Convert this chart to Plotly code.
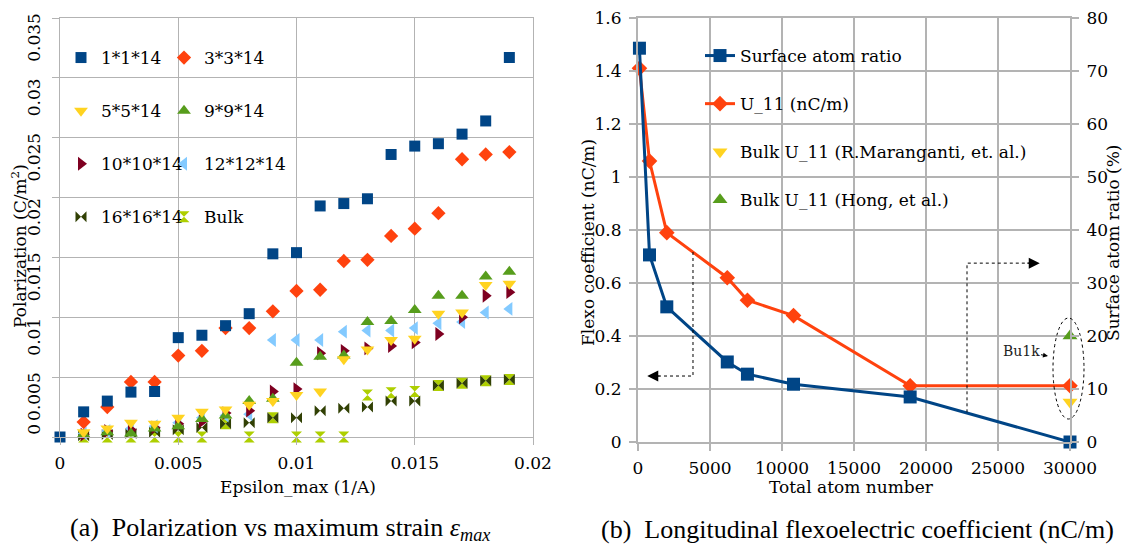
import plotly.graph_objects as go

# ---------------- data: (a) polarization vs strain ----------------
eps_all = [0.000, 0.001, 0.002, 0.003, 0.004, 0.005, 0.006, 0.007, 0.008, 0.009,
           0.010, 0.011, 0.012, 0.013, 0.014, 0.015, 0.016, 0.017, 0.018, 0.019]
eps = eps_all[1:]

p_1x1 = [0, 0.0021, 0.0030, 0.00375, 0.0038, 0.0083, 0.0085, 0.0093, 0.0103, 0.0153,
         0.0154, 0.0193, 0.0195, 0.0199, 0.0236, 0.0243, 0.0245, 0.0253, 0.0264, 0.0317]
p_3x3 = [0.00125, 0.0025, 0.0046, 0.0046, 0.0068, 0.0072, 0.0091, 0.0091, 0.0105, 0.0122,
         0.0123, 0.0147, 0.0148, 0.0168, 0.0174, 0.0187, 0.0232, 0.0236, 0.0238]
p_5x5 = [0.0004, 0.0007, 0.0012, 0.0011, 0.0016, 0.0021, 0.0023, 0.0027, 0.0030, 0.0035,
         0.0038, 0.0065, 0.0073, 0.0081, 0.0082, 0.0103, 0.0104, 0.0127, 0.0128]
p_9x9 = [0.0002, 0.0004, 0.0003, 0.0007, 0.0009, 0.0015, 0.0018, 0.0030, 0.0032, 0.0062,
         0.0067, 0.0068, 0.0096, 0.0097, 0.0106, 0.0118, 0.0118, 0.0134, 0.0138]
p_10x10 = [0.0002, 0.0005, 0.0006, 0.0008, 0.0011, 0.0013, 0.0020, 0.0022, 0.0038, 0.0040,
           0.0070, 0.0072, 0.0074, 0.0076, 0.0079, 0.0086, 0.0100, 0.0118, 0.0121]
p_12x12 = [0.0003, 0.0005, 0.0007, 0.0009, 0.0012, 0.0016, 0.0018, 0.0019, 0.0081, 0.0081,
           0.0081, 0.0088, 0.0089, 0.0089, 0.0091, 0.0095, 0.0096, 0.0104, 0.0107]
p_16x16 = [0.0001, 0.0002, 0.0003, 0.0004, 0.0006, 0.0008, 0.0011, 0.0012, 0.0016, 0.0016,
           0.0022, 0.0024, 0.0025, 0.0030, 0.0030, 0.0043, 0.0045, 0.0047, 0.0048]
p_bulk = [0, 0, 0, 0, 0, 0, 0.0011, 0, 0.0016, 0,
          0, 0, 0.0035, 0.0037, 0.0038, 0.0043, 0.0045, 0.0047, 0.0048]

# y tick labels of (a) (the "0" is padded so it sits centred on its tick)
pol_tickvals = [0, 0.005, 0.01, 0.015, 0.02, 0.025, 0.03, 0.035]
pol_ticktext = ["\u2007\u2007\u2007\u2007\u20070", "0.005", "0.01", "0.015",
                "0.02", "0.025", "0.03", "0.035"]

# ---------------- data: (b) flexoelectric coefficient ----------------
atoms = [100, 800, 2000, 6200, 7600, 10800, 18900, 30000]
surface_ratio = [74.3, 35.3, 25.5, 15.1, 12.8, 10.9, 8.5, 0]
u11 = [1.41, 1.06, 0.79, 0.62, 0.535, 0.477, 0.212, 0.212]
bulk_x = [30000]
bulk_maranganti = [0.151]
bulk_hong = [0.40]

# ---------------- styling ----------------
W, H = 1124, 546
FONT = "DejaVu Serif, Liberation Serif, DejaVu Sans, serif"
CAP_FONT = "Liberation Serif, DejaVu Serif, DejaVu Sans, serif"
GRID = "#b3b3b3"
C_BLUE, C_ORANGE, C_YELLOW, C_GREEN = "#004586", "#ff420e", "#ffd320", "#579d1c"
C_DRED, C_LBLUE, C_OLIVE, C_LIME = "#7e0021", "#83caff", "#314004", "#aecf00"


def px_x(p):
    return p / W


def px_y(p):
    return (H - p) / H


fig = go.Figure()

# series of (a): earlier series drawn on top -> add in reverse order
series_a = [
    ("1*1*14", eps_all, p_1x1, "square", C_BLUE, 11, "legend", 1),
    ("3*3*14", eps, p_3x3, "diamond", C_ORANGE, 11, "legend2", 1),
    ("5*5*14", eps, p_5x5, "triangle-down", C_YELLOW, 12, "legend", 2),
    ("9*9*14", eps, p_9x9, "triangle-up", C_GREEN, 12, "legend2", 2),
    ("10*10*14", eps, p_10x10, "triangle-right", C_DRED, 12, "legend", 3),
    ("12*12*14", eps, p_12x12, "triangle-left", C_LBLUE, 12, "legend2", 3),
    ("16*16*14", eps, p_16x16, "bowtie", C_OLIVE, 11, "legend", 4),
    ("Bulk", eps, p_bulk, "hourglass", C_LIME, 11, "legend2", 4),
]
for name, xs, ys, sym, col, size, leg, rank in reversed(series_a):
    fig.add_trace(go.Scatter(
        x=xs, y=ys, mode="markers", name=name,
        marker=dict(symbol=sym, color=col, size=size, line=dict(width=0)),
        xaxis="x", yaxis="y", legend=leg, legendgroup=name, legendrank=rank,
        cliponaxis=False))

# series of (b)
fig.add_trace(go.Scatter(
    x=atoms, y=u11, mode="lines+markers", name="U_11 (nC/m)",
    line=dict(color=C_ORANGE, width=3),
    marker=dict(symbol="diamond", size=12, color=C_ORANGE),
    xaxis="x2", yaxis="y2", legend="legend3", legendgroup="u11", legendrank=2,
    cliponaxis=False))
fig.add_trace(go.Scatter(
    x=bulk_x, y=bulk_maranganti, mode="markers", name="Bulk U_11 (R.Maranganti, et. al.)",
    marker=dict(symbol="triangle-down", size=13, color=C_YELLOW),
    xaxis="x2", yaxis="y2", legend="legend3", legendgroup="mar", legendrank=3,
    cliponaxis=False))
fig.add_trace(go.Scatter(
    x=bulk_x, y=bulk_hong, mode="markers", name="Bulk U_11 (Hong, et al.)",
    marker=dict(symbol="triangle-up", size=13, color=C_GREEN),
    xaxis="x2", yaxis="y2", legend="legend3", legendgroup="hong", legendrank=4,
    cliponaxis=False))
fig.add_trace(go.Scatter(
    x=atoms, y=surface_ratio, mode="lines+markers", name="Surface atom ratio",
    line=dict(color=C_BLUE, width=3),
    marker=dict(symbol="square", size=13, color=C_BLUE),
    xaxis="x2", yaxis="y3", legend="legend3", legendgroup="surf", legendrank=1,
    cliponaxis=False))

tickfont = dict(family=FONT, size=17, color="black")
common = dict(showgrid=True, gridcolor=GRID, showline=True, linecolor=GRID,
              ticks="outside", ticklen=7, tickcolor=GRID, zeroline=False,
              tickfont=tickfont, mirror=True, automargin=False)

legfont = dict(family=FONT, size=17, color="black")

fig.update_layout(
    width=W, height=H, margin=dict(l=0, r=0, t=0, b=0, pad=0, autoexpand=False),
    paper_bgcolor="white", plot_bgcolor="white",
    xaxis=dict(domain=[px_x(60), px_x(533)], range=[0, 0.02], dtick=0.005,
               gridwidth=1, linewidth=1, tickwidth=1, anchor="y",
               ticklabelstandoff=4, **common),
    yaxis=dict(domain=[px_y(437), px_y(18)], range=[0, 0.035],
               tickmode="array", tickvals=pol_tickvals, ticktext=pol_ticktext,
               tickangle=-90, gridwidth=1, linewidth=1, tickwidth=1, anchor="x",
               ticklabelstandoff=5, ticklabelshift=22, **common),
    xaxis2=dict(domain=[px_x(638), px_x(1070)], range=[0, 30000], dtick=5000,
                tickformat="d", gridwidth=2, linewidth=2, tickwidth=2, anchor="y2",
                ticklabelstandoff=3, **common),
    yaxis2=dict(domain=[px_y(442), px_y(18)], range=[0, 1.6], dtick=0.2,
                gridwidth=2, linewidth=2, tickwidth=2, anchor="x2",
                ticklabelstandoff=4, **common),
    yaxis3=dict(overlaying="y2", side="right", anchor="x2", range=[0, 80], dtick=10,
                showgrid=False, showline=True, linecolor=GRID, linewidth=2,
                ticks="outside", ticklen=7, tickcolor=GRID, tickwidth=2,
                zeroline=False, tickfont=tickfont, ticklabelstandoff=4,
                automargin=False),
    legend=dict(x=px_x(61), y=px_y(40), xanchor="left", yanchor="top",
                bgcolor="rgba(0,0,0,0)", font=legfont, tracegroupgap=28,
                itemsizing="trace"),
    legend2=dict(x=px_x(164), y=px_y(40), xanchor="left", yanchor="top",
                 bgcolor="rgba(0,0,0,0)", font=legfont, tracegroupgap=28,
                 itemsizing="trace"),
    legend3=dict(x=px_x(700), y=px_y(38), xanchor="left", yanchor="top",
                 bgcolor="rgba(0,0,0,0)", font=legfont, tracegroupgap=23,
                 itemsizing="trace"),
    showlegend=True,
)

# ---------------- axis titles ----------------
title_font = dict(family=FONT, size=17, color="black")
axis_titles = [
    ("Epsilon_max (1/A)", px_x(298), px_y(487), 0),
    ("Polarization (C/m<sup>2</sup>)", px_x(19), px_y(246), -90),
    ("Total atom number", px_x(851), px_y(487), 0),
    ("Flexo coefficient (nC/m)", px_x(588), px_y(243), -90),
    ("Surface atom ratio (%)", px_x(1113), px_y(243), -90),
]
for txt, x, y, ang in axis_titles:
    fig.add_annotation(text=txt, x=x, y=y, xref="paper", yref="paper",
                       showarrow=False, textangle=ang, font=title_font,
                       xanchor="center", yanchor="middle")

# ---------------- captions ----------------
cap_font = dict(family=CAP_FONT, size=26, color="black")
fig.add_annotation(
    text="(a)  Polarization vs maximum strain <i>ε</i><sub><i>max</i></sub>",
    x=px_x(280), y=px_y(529), xref="paper", yref="paper",
    showarrow=False, font=cap_font, xanchor="center", yanchor="middle")
fig.add_annotation(
    text="(b)  Longitudinal flexoelectric coefficient (nC/m)",
    x=px_x(857), y=px_y(529), xref="paper", yref="paper",
    showarrow=False, font=cap_font, xanchor="center", yanchor="middle")

# ---------------- dotted arrows / bulk ellipse ----------------
dot = dict(color="black", width=1, dash="dot")
LEFT_ARROW = [(3819, 0.717), (3819, 0.249), (1000, 0.249)]
RIGHT_ARROW = [(22847, 0.112), (22847, 0.675), (27300, 0.675)]
for pts in (LEFT_ARROW, RIGHT_ARROW):
    path = "M " + " L ".join(f"{a},{b}" for a, b in pts)
    fig.add_shape(type="path", path=path, xref="x2", yref="y2", line=dot)

fig.add_annotation(x=640, y=0.249, xref="x2", yref="y2", ax=14, ay=0, text="",
                   showarrow=True, arrowhead=2, arrowsize=2.2, arrowwidth=1,
                   arrowcolor="black", standoff=0)
fig.add_annotation(x=27900, y=0.675, xref="x2", yref="y2", ax=-14, ay=0, text="",
                   showarrow=True, arrowhead=2, arrowsize=2.2, arrowwidth=1,
                   arrowcolor="black", standoff=0)

fig.add_shape(type="circle", xref="paper", yref="paper",
              x0=px_x(1053), x1=px_x(1084), y0=px_y(419), y1=px_y(318), line=dot)
fig.add_annotation(text="Bu1k", x=px_x(1048), y=px_y(356), xref="paper", yref="paper",
                   ax=-27, ay=-5, showarrow=True, arrowhead=2, arrowsize=1,
                   arrowwidth=1, arrowcolor="black",
                   font=dict(family=FONT, size=14, color="#222222"))

fig.write_html("out.html")
